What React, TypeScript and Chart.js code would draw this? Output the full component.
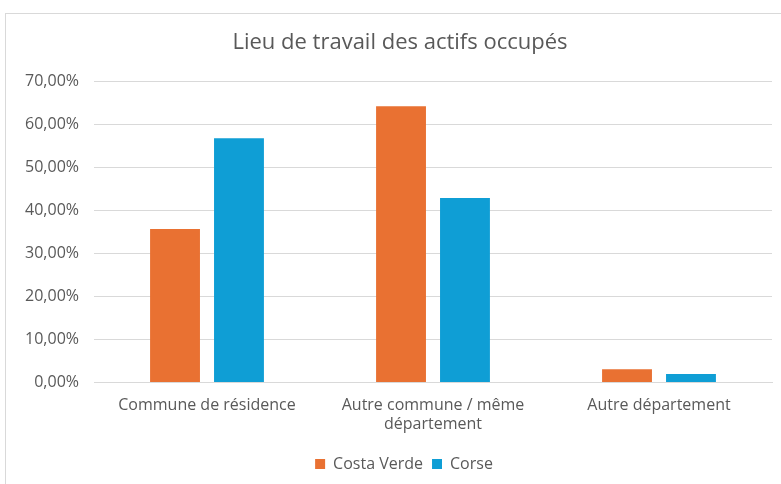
import React, { useEffect, useRef } from "react";
import { Chart, registerables } from "chart.js";

Chart.register(...registerables);

const categories: (string | string[])[] = [
  "Commune de résidence",
  ["Autre commune / même", "département"],
  "Autre département",
];
const costaVerde = [35.7, 64.2, 3.1];
const corse = [56.8, 42.9, 2.0];
const seriesNames = ["Costa Verde", "Corse"];
const title = "Lieu de travail des actifs occupés";

const TEXT = "#595959";
const FONT = "'Open Sans', Roboto, sans-serif";

const shiftPlugin = {
  id: "shiftBlocks",
  afterLayout(chart: any) {
    const lg = chart.legend;
    if (lg) {
      lg.left += 18;
      lg.right += 18;
    }
    const tb = chart.titleBlock;
    if (tb) {
      tb.left += 14;
      tb.right += 14;
    }
  },
};

export default function App() {
  const ref = useRef<HTMLCanvasElement | null>(null);
  useEffect(() => {
    if (!ref.current) return;
    const chart = new Chart(ref.current, {
      type: "bar",
      data: {
        labels: categories,
        datasets: [
          { label: seriesNames[0], data: costaVerde, backgroundColor: "#E97132" },
          { label: seriesNames[1], data: corse, backgroundColor: "#0F9ED5" },
        ],
      },
      plugins: [shiftPlugin],
      options: {
        animation: false,
        responsive: false,
        maintainAspectRatio: false,
        layout: { padding: { left: 0, right: 9, top: 0, bottom: 2 } },
        datasets: { bar: { categoryPercentage: 0.566, barPercentage: 0.78 } },
        plugins: {
          title: {
            display: true,
            text: title,
            color: TEXT,
            font: { family: FONT, size: 22, weight: "normal" },
            padding: { top: 30, bottom: 25 },
          },
          legend: {
            position: "bottom",
            labels: {
              color: TEXT,
              font: { family: FONT, size: 16 },
              boxWidth: 10,
              boxHeight: 10,
              padding: 9,
            },
          },
          tooltip: { enabled: false },
        },
        scales: {
          x: {
            grid: { display: false, drawTicks: false },
            border: { color: "#d9d9d9" },
            ticks: {
              color: TEXT,
              font: { family: FONT, size: 16, lineHeight: 1.2 },
              maxRotation: 0,
              padding: 13,
            },
          },
          y: {
            min: 0,
            max: 70,
            grid: { color: "#d9d9d9", drawTicks: false },
            border: { display: false },
            afterFit: (s: any) => {
              s.width = 94;
            },
            ticks: {
              stepSize: 10,
              color: TEXT,
              padding: 15,
              font: { family: FONT, size: 16 },
              callback: (v: any) => Number(v).toFixed(2).replace(".", ",") + "%",
            },
          },
        },
      },
    });
    return () => chart.destroy();
  }, []);
  return (
    <div
      style={{
        position: "fixed",
        left: 0,
        top: 0,
        width: 781,
        height: 484,
        background: "#fff",
        overflow: "hidden",
      }}
    >
      <div
        style={{
          position: "absolute",
          left: 5,
          top: 13,
          width: 790,
          height: 490,
          border: "1px solid #d9d9d9",
        }}
      />
      <canvas
        ref={ref}
        width={781}
        height={484}
        style={{ position: "absolute", left: 0, top: 0 }}
      />
    </div>
  );
}
